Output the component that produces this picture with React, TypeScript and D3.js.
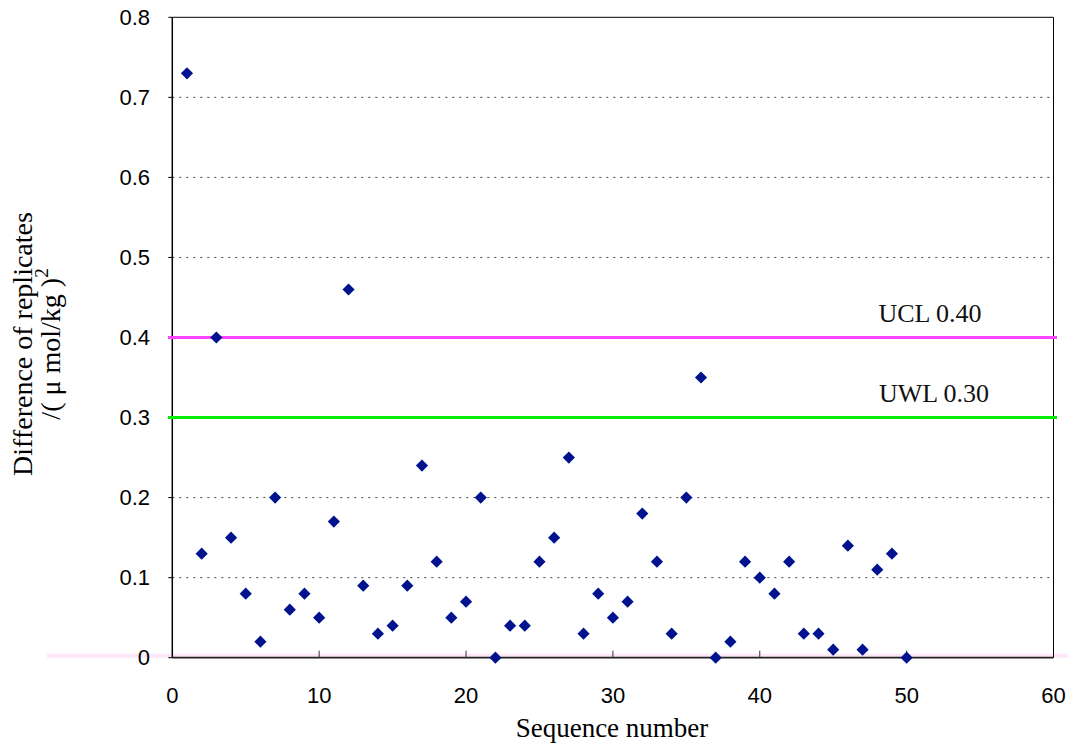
import React from "react";
import * as d3 from "d3";

const sequence: number[] = Array.from({ length: 50 }, (_, i) => i + 1);
const differences: number[] = [
  0.73, 0.13, 0.40, 0.15, 0.08, 0.02, 0.20, 0.06, 0.08, 0.05,
  0.17, 0.46, 0.09, 0.03, 0.04, 0.09, 0.24, 0.12, 0.05, 0.07,
  0.20, 0.00, 0.04, 0.04, 0.12, 0.15, 0.25, 0.03, 0.08, 0.05,
  0.07, 0.18, 0.12, 0.03, 0.20, 0.35, 0.00, 0.02, 0.12, 0.10,
  0.08, 0.12, 0.03, 0.03, 0.01, 0.14, 0.01, 0.11, 0.13, 0.00,
];
const xTicks: number[] = [0, 10, 20, 30, 40, 50, 60];
const yTicks: number[] = [0, 0.1, 0.2, 0.3, 0.4, 0.5, 0.6, 0.7, 0.8];
const UCL = 0.4;
const UWL = 0.3;
const uclLabel = "UCL 0.40";
const uwlLabel = "UWL 0.30";

const W = 1068;
const H = 746;
const L = 172.3, R = 1053.5, T = 17.3, B = 657.7;

export default function App() {
  const x = d3.scaleLinear().domain([0, 60]).range([L, R]);
  const y = d3.scaleLinear().domain([0, 0.8]).range([B, T]);
  const sans = "'Liberation Sans', Arial, sans-serif";
  const serif = "'Liberation Serif', 'Times New Roman', serif";
  const diamond = d3.symbol().type(d3.symbolSquare).size(74)();
  return (
    <svg
      width={W}
      height={H}
      style={{ position: "absolute", left: 0, top: 0, background: "#fff" }}
    >
      <rect x={0} y={0} width={W} height={H} fill="#fff" />
      {/* gridlines */}
      {yTicks.filter((t) => t > 0 && t < 0.8).map((t) => (
        <line key={"g" + t} x1={L} x2={R} y1={y(t)} y2={y(t)}
          stroke="#444" strokeWidth={1} strokeDasharray="2,5" />
      ))}
      {/* pink zero band */}
      <line x1={47} x2={W} y1={y(0) - 2} y2={y(0) - 2} stroke="#fde6f8" strokeWidth={4} />
      {/* frame */}
      <line x1={L} x2={R} y1={T} y2={T} stroke="#000" strokeWidth={1} />
      <line x1={R} x2={R} y1={T} y2={B} stroke="#000" strokeWidth={1} />
      <line x1={L} x2={L} y1={T} y2={B} stroke="#000" strokeWidth={1.5} />
      <line x1={L} x2={R} y1={B} y2={B} stroke="#222" strokeWidth={1.8} />
      {/* y ticks */}
      {yTicks.map((t) => (
        <g key={"y" + t}>
          <line x1={L - 4} x2={L} y1={y(t)} y2={y(t)} stroke="#000" strokeWidth={1} />
          <text x={150} y={y(t)} textAnchor="end" dominantBaseline="central"
            fontFamily={sans} fontSize={22} fill="#000">{t === 0 ? "0" : t.toFixed(1)}</text>
        </g>
      ))}
      {/* x ticks */}
      {xTicks.map((t) => (
        <g key={"x" + t}>
          {t > 0 && t < 60 && (
            <line x1={x(t)} x2={x(t)} y1={B} y2={B - 7} stroke="#333" strokeWidth={1} />
          )}
          <text x={x(t)} y={703} textAnchor="middle" fontFamily={sans} fontSize={22} fill="#000">
            {t}
          </text>
        </g>
      ))}
      {/* control lines */}
      <line x1={168} x2={1057} y1={y(UCL)} y2={y(UCL)} stroke="#ff44ff" strokeWidth={3} />
      <line x1={168} x2={1057} y1={y(UWL)} y2={y(UWL)} stroke="#00ee00" strokeWidth={3} />
      <text x={930} y={322} textAnchor="middle" fontFamily={serif} fontSize={26} fill="#111">{uclLabel}</text>
      <text x={934} y={402} textAnchor="middle" fontFamily={serif} fontSize={26} fill="#111">{uwlLabel}</text>
      {/* points */}
      {sequence.map((s, i) => (
        <path key={"p" + s} d={diamond}
          transform={`translate(${x(s)},${y(differences[i])}) rotate(45)`} fill="#00128e" />
      ))}
      {/* axis titles */}
      <text x={612} y={737} textAnchor="middle" fontFamily={serif} fontSize={27} fill="#000">
        Sequence number
      </text>
      <text transform="translate(32,344) rotate(-90)" textAnchor="middle" fontFamily={serif} fontSize={28} fill="#000">
        Difference of replicates
      </text>
      <text transform="translate(60,344) rotate(-90)" textAnchor="middle" fontFamily={serif} fontSize={28} fill="#000">
        /( μ mol/kg )<tspan dy={-12} fontSize={19}>2</tspan>
      </text>
    </svg>
  );
}
